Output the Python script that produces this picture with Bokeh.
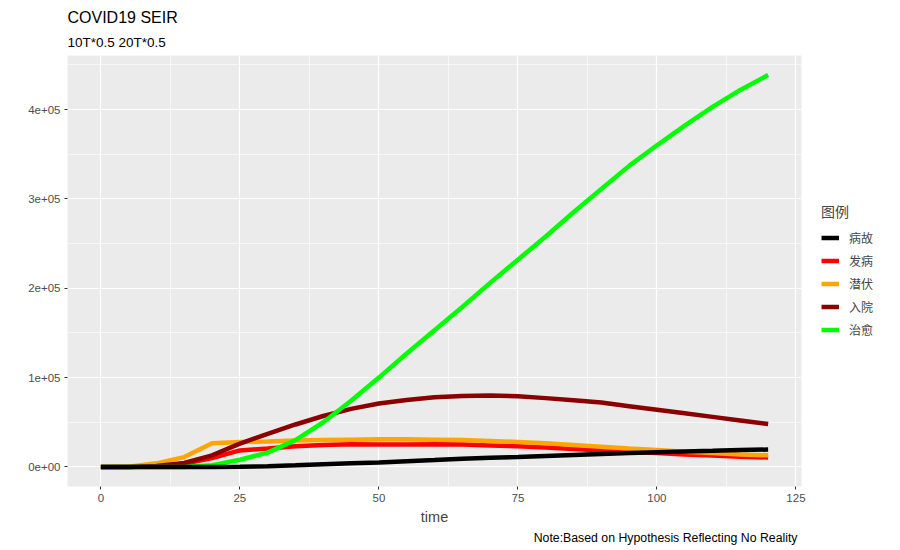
from bokeh.plotting import figure
from bokeh.models import Range1d, FixedTicker, Legend, LegendItem, Title
from bokeh.embed import file_html
from bokeh.resources import INLINE

# ---- data ----
time = [0, 5, 10, 15, 20, 25, 30, 35, 40, 45, 50, 55, 60, 65, 70, 75, 80, 85, 90, 95, 100, 105, 110, 115, 120]
death = [0, 0, 0, 0, 0, 200, 800, 1800, 3000, 4000, 5000, 6300, 7600, 9000, 10200, 11200, 12300, 13400, 14500, 15500, 16500, 17300, 18000, 18800, 19500]
onset = [0, 0, 1000, 3500, 10000, 18500, 20500, 23000, 24500, 25500, 25000, 25000, 25300, 25000, 24000, 23000, 21700, 20000, 18500, 17000, 15500, 14000, 12800, 11500, 10500]
latent = [0, 300, 4000, 11000, 26500, 28000, 28500, 29500, 30000, 30500, 31000, 31000, 30500, 30000, 29000, 28000, 26500, 24500, 22500, 20500, 19000, 17000, 15500, 14000, 13000]
hospital = [0, 0, 1000, 4500, 13000, 26000, 37000, 47500, 57000, 65000, 71000, 75000, 78000, 79500, 80000, 79000, 77000, 74500, 72000, 68000, 64000, 60000, 56000, 52000, 48000]
recovered = [0, 0, 0, 0, 2000, 8000, 16000, 30000, 50000, 74000, 100000, 127000, 153000, 179000, 206000, 232000, 258000, 285000, 311000, 337000, 360000, 382000, 403000, 422000, 438600]

series_names = ["病故", "发病", "潜伏", "入院", "治愈"]
series_colors = ["#000000", "#FF0000", "#FFA500", "#8B0000", "#00FF00"]
series_values = [death, onset, latent, hospital, recovered]

x_ticks = [0, 25, 50, 75, 100, 125]
x_minor = [12.5, 37.5, 62.5, 87.5, 112.5]
y_ticks = [0, 100000, 200000, 300000, 400000]
y_tick_labels = ["0e+00", "1e+05", "2e+05", "3e+05", "4e+05"]
y_minor = [50000, 150000, 250000, 350000, 450000]

ymax = max(max(v) for v in series_values)
pad_y = 0.05 * ymax
pad_x = 0.05 * (max(time) - min(time))

p = figure(frame_width=734, frame_height=431,
           x_range=Range1d(min(time) - pad_x, max(time) + pad_x),
           y_range=Range1d(-pad_y, ymax + pad_y),
           output_backend="svg", toolbar_location=None,
           min_border_left=67, min_border_top=55, min_border_right=95, min_border_bottom=56)

p.background_fill_color = "#EBEBEB"
p.border_fill_color = "white"
p.outline_line_color = None

# titles
p.add_layout(Title(text="10T*0.5 20T*0.5", text_font_size="13.5px", text_font="Liberation Sans",
                   text_font_style="normal", text_color="black", align="left", standoff=12), "above")
p.add_layout(Title(text="COVID19 SEIR", text_font_size="16px", text_font="Liberation Sans",
                   text_font_style="normal", text_color="black", align="left", standoff=2), "above")
p.add_layout(Title(text="Note:Based on Hypothesis Reflecting No Reality", text_font_size="12.3px",
                   text_font="Liberation Sans", text_font_style="normal", text_color="black",
                   align="right", offset=4, standoff=2), "below")

# axes
p.xaxis.ticker = FixedTicker(ticks=x_ticks, minor_ticks=x_minor)
p.yaxis.ticker = FixedTicker(ticks=y_ticks, minor_ticks=y_minor)
p.yaxis.major_label_overrides = {t: l for t, l in zip(y_ticks, y_tick_labels)}
for ax in (p.xaxis, p.yaxis):
    ax.axis_line_color = None
    ax.major_tick_line_color = "#333333"
    ax.major_tick_out = 3
    ax.major_tick_in = 0
    ax.minor_tick_line_color = None
    ax.major_label_text_color = "#4D4D4D"
    ax.major_label_text_font = "Liberation Sans"
    ax.major_label_text_font_size = "11.5px"
    ax.major_label_standoff = 3
p.xaxis.axis_label = "time"
p.xaxis.axis_label_text_font = "Liberation Sans"
p.xaxis.axis_label_text_font_size = "14.5px"
p.xaxis.axis_label_text_font_style = "normal"
p.xaxis.axis_label_standoff = 4

for g in (p.xgrid, p.ygrid):
    g.grid_line_color = "white"
    g.grid_line_width = 1.2
    g.minor_grid_line_color = "white"
    g.minor_grid_line_width = 0.6

# lines (draw black last so it sits on top)
renderers = {}
draw_order = [1, 2, 3, 4, 0]
for i in draw_order:
    r = p.line(time, series_values[i], line_color=series_colors[i], line_width=4.5)
    renderers[i] = r

items = [LegendItem(label=series_names[i], renderers=[renderers[i]]) for i in range(len(series_names))]
legend = Legend(items=items, title="图例", location="center_left")
legend.title_text_font = "Noto Sans CJK SC"
legend.title_text_font_size = "14px"
legend.title_text_font_style = "normal"
legend.title_standoff = 5
legend.label_text_font = "Noto Sans CJK SC"
legend.label_text_font_size = "12px"
legend.glyph_width = 18
legend.glyph_height = 23
legend.label_height = 23
legend.spacing = 0
legend.label_standoff = 10
legend.padding = 6
legend.margin = 20
legend.border_line_color = None
legend.background_fill_color = "white"
p.add_layout(legend, "right")

open("out.html", "w").write(file_html(p, INLINE))
